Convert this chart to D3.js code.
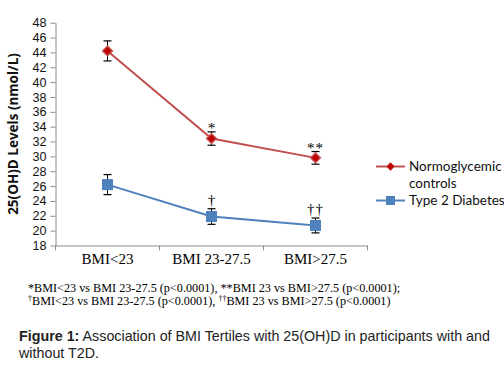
<!DOCTYPE html>
<html><head><meta charset="utf-8">
<script src="https://cdn.jsdelivr.net/npm/d3@7"></script>
<style>
body{margin:0;background:#fff;}
svg{display:block;}
</style></head>
<body>
<svg id="c" width="504" height="365"></svg>
<script>
const categories = ["BMI<23", "BMI 23-27.5", "BMI>27.5"];
const normoValues = [44.2, 32.4, 29.8];
const normoErrors = [1.35, 0.9, 0.85];
const t2dValues = [26.2, 21.9, 20.7];
const t2dErrors = [1.35, 1.05, 1.0];
const normoMarks = ["", "*", "**"];
const t2dMarks = ["", "†", "††"];
const yTicks = d3.range(18, 49, 2);
const seriesNames = ["Normoglycemic controls", "Type 2 Diabetes"];

const svg = d3.select("#c");
const x = d3.scaleBand().domain(categories).range([55.5, 367.5]);
const y = d3.scaleLinear().domain([18, 48]).range([245.5, 22.7]);
const axisColor = "#8c8c8c";

// y axis
const ya = svg.append("g").attr("transform", "translate(55.5,0)")
  .call(d3.axisLeft(y).tickValues(yTicks).tickSize(5).tickSizeOuter(0));
ya.select(".domain").attr("stroke", axisColor);
ya.selectAll(".tick line").attr("stroke", axisColor);
ya.selectAll(".tick text").attr("font-family", "'Liberation Sans', Arial, sans-serif")
  .attr("font-size", 12.6).attr("fill", "#111").attr("dx", "-1");

// x axis
const xa = svg.append("g").attr("transform", "translate(0,245.5)")
  .call(d3.axisBottom(x).tickSize(0).tickSizeOuter(0));
xa.select(".domain").attr("stroke", axisColor);
xa.selectAll(".tick text").attr("font-family", "'Liberation Serif', 'Times New Roman', serif")
  .attr("font-size", 15).attr("fill", "#000").attr("dy", "1.05em");
// category boundary ticks
const bounds = categories.map(c => x(c)).concat([x.range()[1]]);
svg.append("g").selectAll("line").data(bounds).join("line")
  .attr("x1", d => d).attr("x2", d => d).attr("y1", 245.5).attr("y2", 250.5)
  .attr("stroke", axisColor);

// y title
svg.append("text").attr("transform", "translate(18,134) rotate(-90)")
  .attr("text-anchor", "middle").attr("font-family", "'Open Sans', 'Liberation Sans', sans-serif")
  .attr("font-weight", "bold").attr("font-size", 13.5).attr("fill", "#111")
  .text("25(OH)D Levels (nmol/L)");

const cx = c => x(c) + x.bandwidth() / 2;
const line = d3.line().x(d => cx(d.c)).y(d => y(d.v));

function drawSeries(vals, errs, marks, color, markerColor, shape, markDy) {
  const data = categories.map((c, i) => ({c, v: vals[i], e: errs[i], m: marks[i]}));
  svg.append("path").datum(data).attr("d", line).attr("fill", "none")
    .attr("stroke", color).attr("stroke-width", 2);
  const g = svg.append("g");
  data.forEach(d => {
    const px = cx(d.c);
    g.append("line").attr("x1", px).attr("x2", px).attr("y1", y(d.v + d.e)).attr("y2", y(d.v - d.e))
      .attr("stroke", "#000").attr("stroke-width", 1);
    [d.v + d.e, d.v - d.e].forEach(v => g.append("line").attr("x1", px - 4).attr("x2", px + 4)
      .attr("y1", y(v)).attr("y2", y(v)).attr("stroke", "#000").attr("stroke-width", 1.2));
    if (shape === "diamond") {
      g.append("path").attr("d", d3.symbol(d3.symbolDiamond2, 60)()).attr("transform", `translate(${px},${y(d.v)})`)
        .attr("fill", markerColor).attr("stroke", color).attr("stroke-width", 1.5);
    } else {
      g.append("rect").attr("x", px - 5.5).attr("y", y(d.v) - 5.5).attr("width", 11).attr("height", 11)
        .attr("fill", markerColor);
    }
    if (d.m) g.append("text").attr("x", px).attr("y", y(d.v + d.e) + markDy).attr("text-anchor", "middle")
      .attr("font-family", "'Liberation Serif', serif").attr("font-size", 15).attr("fill", "#000")
      .attr("letter-spacing", d.m.length > 1 ? 1 : 0).text(d.m);
  });
}
drawSeries(normoValues, normoErrors, normoMarks, "#c0504d", "#c00000", "diamond", 1);
drawSeries(t2dValues, t2dErrors, t2dMarks, "#4f81bd", "#4f81bd", "square", -4);

// legend
const lg = svg.append("g").attr("font-family", "Lato, 'Liberation Sans', sans-serif").attr("font-size", 13.5).attr("fill", "#111");
lg.append("line").attr("x1", 376).attr("x2", 405).attr("y1", 166.5).attr("y2", 166.5).attr("stroke", "#c0504d").attr("stroke-width", 2);
lg.append("path").attr("d", d3.symbol(d3.symbolDiamond2, 40)()).attr("transform", "translate(390.5,166.5)").attr("fill", "#c00000").attr("stroke", "#c0504d");
lg.append("text").attr("x", 409).attr("y", 171).text("Normoglycemic");
lg.append("text").attr("x", 409).attr("y", 188).text("controls");
lg.append("line").attr("x1", 376).attr("x2", 405).attr("y1", 200.5).attr("y2", 200.5).attr("stroke", "#4f81bd").attr("stroke-width", 2);
lg.append("rect").attr("x", 386).attr("y", 196).attr("width", 9).attr("height", 9).attr("fill", "#4f81bd");
lg.append("text").attr("x", 409).attr("y", 205).text("Type 2 Diabetes");

// footnotes
const fn = svg.append("g").attr("font-family", "'Liberation Serif', 'Times New Roman', serif").attr("font-size", 12.2).attr("fill", "#000");
fn.append("text").attr("x", 28).attr("y", 292).text("*BMI<23 vs BMI 23-27.5 (p<0.0001), **BMI 23 vs BMI>27.5 (p<0.0001);");
const t2 = fn.append("text").attr("x", 28).attr("y", 305);
t2.append("tspan").attr("font-size", 8).attr("dy", -4).text("†");
t2.append("tspan").attr("dy", 4).text("BMI<23 vs BMI 23-27.5 (p<0.0001), ");
t2.append("tspan").attr("font-size", 8).attr("dy", -4).text("††");
t2.append("tspan").attr("dy", 4).text("BMI 23 vs BMI>27.5 (p<0.0001)");

// caption
const cap = svg.append("g").attr("font-family", "'Liberation Sans', Arial, sans-serif").attr("font-size", 14.3).attr("fill", "#222");
const c1 = cap.append("text").attr("x", 19).attr("y", 341);
c1.append("tspan").attr("font-weight", "bold").text("Figure 1:");
c1.append("tspan").text(" Association of BMI Tertiles with 25(OH)D in participants with and");
cap.append("text").attr("x", 19).attr("y", 358).text("without T2D.");
</script>
</body></html>
